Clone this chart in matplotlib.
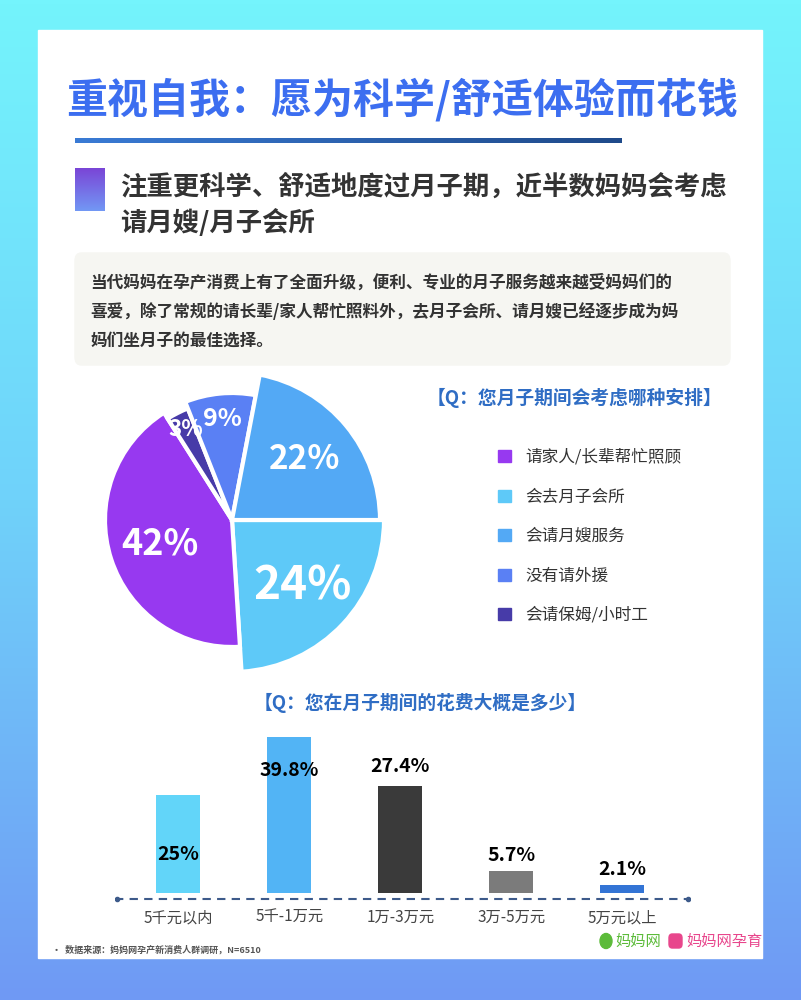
import numpy as np
import matplotlib
matplotlib.use("Agg")
import matplotlib.pyplot as plt
from matplotlib.patches import Rectangle, FancyBboxPatch, Patch, Circle
from matplotlib.colors import LinearSegmentedColormap

plt.rcParams['font.family'] = ['Noto Sans CJK SC', 'DejaVu Sans']

# ---- texts ----
title = "重视自我：愿为科学/舒适体验而花钱"
subtitle = ["注重更科学、舒适地度过月子期，近半数妈妈会考虑", "请月嫂/月子会所"]
intro = ["当代妈妈在孕产消费上有了全面升级，便利、专业的月子服务越来越受妈妈们的",
         "喜爱，除了常规的请长辈/家人帮忙照料外，去月子会所、请月嫂已经逐步成为妈",
         "妈们坐月子的最佳选择。"]
q1 = "【Q：您月子期间会考虑哪种安排】"
q2 = "【Q：您在月子期间的花费大概是多少】"
source = "·  数据来源：妈妈网孕产新消费人群调研，N=6510"

# ---- pie data (clockwise from 3 o'clock) ----
pie_labels = ["会去月子会所", "请家人/长辈帮忙照顾", "会请保姆/小时工", "没有请外援", "会请月嫂服务"]
pie_values = [24, 42, 3, 9, 22]
pie_colors = ["#5ec9f8", "#9739f0", "#473ba8", "#5a80f4", "#53a9f5"]
legend_order = [1, 0, 4, 3, 2]

# ---- bar data ----
spend_cats = ["5千元以内", "5千-1万元", "1万-3万元", "3万-5万元", "5万元以上"]
spend_values = [25, 39.8, 27.4, 5.7, 2.1]
spend_colors = ["#62d5f9", "#52b4f5", "#3a3a3a", "#7b7b7b", "#3374d5"]


W, H = 801, 1000
def fx(x):
    return x / W
def fy(y):
    return 1 - y / H

fig = plt.figure(figsize=(8.01, 10), dpi=100)

# background gradient + white panel
bg = fig.add_axes([0, 0, 1, 1])
bg_cmap = LinearSegmentedColormap.from_list("bg", ["#74f4fc", "#6fd2fa", "#6f99f4"])
grad = np.linspace(0, 1, 256).reshape(-1, 1)
bg.imshow(grad, cmap=bg_cmap, extent=[0, 1, 0, 1], aspect="auto", zorder=0)
bg.add_patch(Rectangle((fx(38), fy(958)), 724 / W, 928 / H, color="white", zorder=1))

# title
bg.text(fx(402), fy(100), title, fontsize=29.5, weight="bold", color="#3c6ef0",
        ha="center", va="center", zorder=3)
line_cmap = LinearSegmentedColormap.from_list("ln", ["#3a7bd5", "#1f4a8a"])
bg.imshow(np.linspace(0, 1, 256).reshape(1, -1), cmap=line_cmap,
          extent=[fx(75), fx(622), fy(143), fy(138)], aspect="auto", zorder=3)

# subtitle
sq_cmap = LinearSegmentedColormap.from_list("sq", ["#7a45d6", "#7298f5"])
bg.imshow(grad, cmap=sq_cmap, extent=[fx(75), fx(105), fy(211), fy(168)],
          aspect="auto", zorder=3)
bg.text(fx(120), fy(187), subtitle[0], fontsize=19, weight="bold", color="#333333",
        va="center", zorder=3)
bg.text(fx(120), fy(223), subtitle[1], fontsize=19, weight="bold", color="#333333",
        va="center", zorder=3)

# intro box
bg.add_patch(FancyBboxPatch((fx(75), fy(365)), 655 / W, 112 / H,
                            boxstyle="round,pad=0,rounding_size=0.008",
                            color="#f6f6f2", zorder=2))
for i, s in enumerate(intro):
    bg.text(fx(90), fy(283 + 29 * i), s, fontsize=12, weight="bold", color="#333333",
            va="center", zorder=3)

# question headings
bg.text(fx(574), fy(398), q1, fontsize=13.5, weight="bold", color="#2f6dc4",
        ha="center", va="center", zorder=3)
bg.text(fx(420), fy(703), q2, fontsize=13.5, weight="bold", color="#2f6dc4",
        ha="center", va="center", zorder=3)

# footer
bg.text(fx(52), fy(950), source, fontsize=6.5, weight="bold", color="#555555",
        va="center", zorder=3)
bg.add_patch(Circle((fx(606), fy(941)), 6 / W, color="#5cbb3a", zorder=3))
bg.text(fx(615), fy(941), "妈妈网", fontsize=11, color="#5cbb3a", va="center", zorder=3)
bg.add_patch(FancyBboxPatch((fx(669), fy(948)), 13 / W, 14 / H,
                            boxstyle="round,pad=0,rounding_size=0.004",
                            color="#e8468c", zorder=3))
bg.text(fx(686), fy(941), "妈妈网孕育", fontsize=11, color="#e8468c", va="center", zorder=3)

bg.set_xlim(0, 1)
bg.set_ylim(0, 1)
bg.axis("off")

# ---- pie ----
ax_pie = fig.add_axes([fx(232 - 170), fy(520 + 170), 340 / W, 340 / H])
wedges, _ = ax_pie.pie(pie_values, colors=pie_colors, startangle=0, counterclock=False,
                       radius=1.3, wedgeprops=dict(edgecolor="white", linewidth=3))
radii = [1.52, 1.27, 1.2, 1.27, 1.48]
label_sizes = [33, 26, 16, 18, 24]
label_r = [0.64, 0.6, 0.85, 0.8, 0.64]
for w, r, v, fs, lr in zip(wedges, radii, pie_values, label_sizes, label_r):
    w.set_radius(r)
    mid = np.deg2rad((w.theta1 + w.theta2) / 2)
    ax_pie.text(lr * r * np.cos(mid), lr * r * np.sin(mid), f"{v}%", color="white",
                fontsize=fs, weight="bold", ha="center", va="center")
ax_pie.set_xlim(-1.7, 1.7)
ax_pie.set_ylim(-1.7, 1.7)
ax_pie.axis("off")

handles = [Patch(color=pie_colors[i], label=pie_labels[i]) for i in legend_order]
leg = fig.legend(handles=handles, loc="upper left", bbox_to_anchor=(fx(483), fy(434)),
                 frameon=False, fontsize=12, handlelength=0.75, handleheight=0.75,
                 labelspacing=1.35, handletextpad=0.9)
for t in leg.get_texts():
    t.set_color("#333333")

# ---- bars ----
ax_bar = fig.add_axes([fx(115), fy(905), 575 / W, 188 / H])
x = np.arange(len(spend_values))
ax_bar.bar(x, spend_values, width=0.4, color=spend_colors, zorder=2)
label_offsets = [-15, -8.5, 5, 4, 4]
for xi, v, off in zip(x, spend_values, label_offsets):
    ax_bar.text(xi, v + off, f"{v:g}%", ha="center", va="center", fontsize=14,
                weight="bold", color="black")
ax_bar.axhline(-1.5, ls=(0, (4, 3)), color="#3d5a8a", lw=1.5, zorder=1)
ax_bar.plot([-0.55, 4.59], [-1.5, -1.5], "o", ms=3, color="#3d5a8a")
ax_bar.set_xlim(-0.57, 4.61)
ax_bar.set_ylim(-3, 45)
ax_bar.set_xticks(x)
ax_bar.set_xticklabels(spend_cats, fontsize=11, color="#444444")
ax_bar.tick_params(axis="x", length=0, pad=3)
ax_bar.set_yticks([])
for s in ax_bar.spines.values():
    s.set_visible(False)
ax_bar.patch.set_alpha(0)

fig.savefig("out.png", dpi=100)
